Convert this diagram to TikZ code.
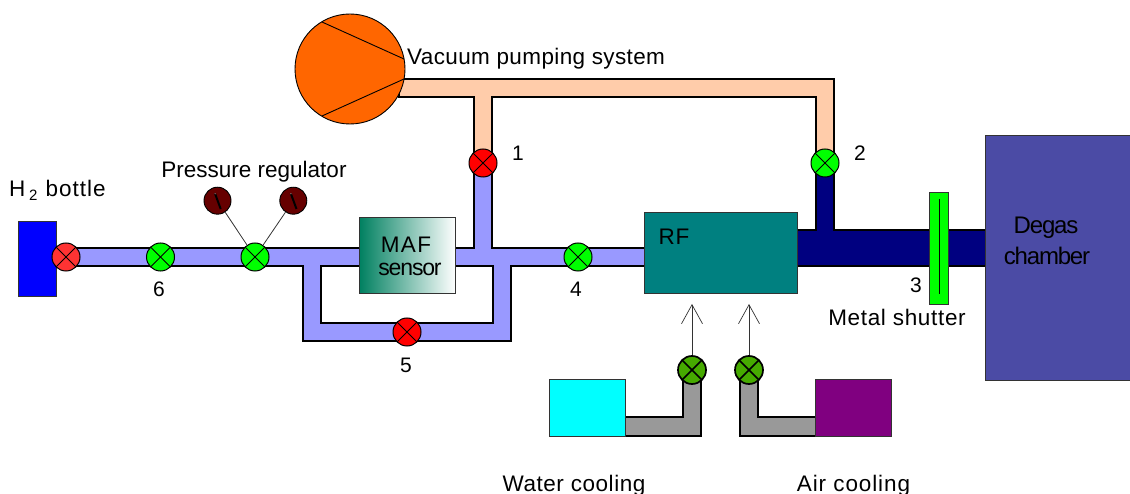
\documentclass[tikz,border=0pt]{standalone}
\usepackage{xcolor}
\usepackage{fontspec}
\setmainfont{Liberation Sans}
\usetikzlibrary{arrows.meta}
\definecolor{pipeblue}{RGB}{153,153,255}
\definecolor{pipepeach}{RGB}{255,204,170}
\definecolor{pipenavy}{RGB}{0,0,128}
\definecolor{pumporange}{RGB}{255,102,0}
\definecolor{valvered}{RGB}{255,0,0}
\definecolor{bottlered}{RGB}{255,51,51}
\definecolor{valvegreen}{RGB}{0,255,0}
\definecolor{cooldark}{RGB}{70,170,0}
\definecolor{gaugered}{RGB}{102,0,0}
\definecolor{rfteal}{RGB}{0,128,128}
\definecolor{mafgreen}{RGB}{0,128,96}
\definecolor{chamberblue}{RGB}{75,75,165}
\definecolor{coolpurple}{RGB}{128,0,128}
\definecolor{coolcyan}{RGB}{0,255,255}
\tikzset{
    pipe/.style={draw=black, line width=1.3pt, line join=miter, fill=#1},
    box/.style={draw=black!80, line width=0.9pt, inner sep=0pt, anchor=north west},
    valve/.style={circle, draw=black, line width=1pt, inner sep=0pt, minimum size=28pt, fill=#1,
        path picture={
            \draw (path picture bounding box.north west) -- (path picture bounding box.south east);
            \draw (path picture bounding box.north east) -- (path picture bounding box.south west);
        }},
    coolvalve/.style={valve=cooldark, line width=1.7pt},
    gauge/.style={circle, draw=black, line width=0.9pt, inner sep=0pt, minimum size=27pt, fill=gaugered},
    lab/.style={inner sep=0pt, font=\fontsize{21}{23}\selectfont},
    tracked/.style={inner sep=0pt, font=\fontsize{22.5}{24}\selectfont\addfontfeatures{LetterSpace=#1}},
    tracked/.default=2.5,
    squeezed/.style={inner sep=0pt, font=\fontsize{24}{26}\selectfont\addfontfeatures{LetterSpace=#1}},
    stem/.style={draw=black!80, line width=0.8pt},
}
\begin{document}
\begin{tikzpicture}[x=1pt, y=-1pt]
    \useasboundingbox (0,0) rectangle (1130,494);
    % pipes
    \draw[pipe=pipepeach] (399,79) -- (834,79) -- (834,163) -- (816,163) -- (816,97) -- (492,97)
        -- (492,163) -- (474,163) -- (474,97) -- (399,97) -- cycle;
    \draw[pipe=pipeblue, even odd rule] (66,248) -- (474,248) -- (474,163) -- (492,163) -- (492,248)
        -- (650,248) -- (650,266) -- (511,266) -- (511,341) -- (303,341) -- (303,266) -- (66,266) -- cycle
        (321,266) -- (493,266) -- (493,323) -- (321,323) -- cycle;
    \draw[pipe=pipenavy] (790,230) -- (816,230) -- (816,163) -- (834,163) -- (834,230) -- (990,230)
        -- (990,266) -- (790,266) -- cycle;
    \draw[pipe=black!40] (620,417) -- (683,417) -- (683,370) -- (701,370) -- (701,436) -- (620,436) -- cycle;
    \draw[pipe=black!40] (820,417) -- (758,417) -- (758,370) -- (740,370) -- (740,436) -- (820,436) -- cycle;
    % vessels and boxes
    \node[box, fill=blue, minimum width=38pt, minimum height=75pt] (bottle) at (18,221) {};
    \node[box, left color=mafgreen, right color=white, minimum width=96pt, minimum height=76pt] (maf) at (359,217) {};
    \node[box, fill=rfteal, minimum width=153pt, minimum height=81pt] (rf) at (644,212) {};
    \node[box, fill=chamberblue, minimum width=146pt, minimum height=245pt] (chamber) at (985,135) {};
    \node[box, fill=valvegreen, minimum width=19pt, minimum height=112pt] (shutter) at (929,192) {};
    \draw[line width=0.7pt] ([yshift=-7pt]shutter.north) -- ([yshift=11pt]shutter.south);
    \node[box, fill=coolcyan, minimum width=76pt, minimum height=57pt] (water) at (549,379) {};
    \node[box, fill=coolpurple, minimum width=76pt, minimum height=57pt] (air) at (815,379) {};
    % pump
    \node[circle, draw=black, line width=0.9pt, fill=pumporange, inner sep=0pt, minimum size=110pt] (pump) at (350,69) {};
    \draw[line width=0.9pt] (322,22) -- (404,59);
    \draw[line width=0.9pt] (322,116) -- (404,79);
    % valves
    \foreach \name/\col/\x/\y in {v0/bottlered/66/257, v6/valvegreen/160.5/257, vreg/valvegreen/255/257,
        v1/valvered/483/163, v2/valvegreen/825/163, v4/valvegreen/578/257, v5/valvered/407/332}
        \node[valve=\col] (\name) at (\x,\y) {};
    \node[coolvalve] (vwater) at (692,370) {};
    \node[coolvalve] (vair) at (749,370) {};
    % gauges
    \foreach \name/\x in {gaugea/217.5, gaugeb/293.3} {
        \node[gauge] (\name) at (\x,200.7) {};
        \draw[line width=2pt] ([shift={(-2.6,-7.5)}]\name.center) -- ([shift={(3.2,8.3)}]\name.center);
        \fill[gaugered!60!white] ([shift={(-2.4,-7)}]\name.center) circle (0.8pt);
        \draw[stem] (\name) -- (vreg);
    }
    % cooling arrows
    \coordinate (tipwater) at (692,304);
    \coordinate (tipair) at (749,304);
    \draw[stem, -{Straight Barb[length=19pt, width=21pt, line width=0.7pt]}] (vwater) -- (tipwater);
    \draw[stem, -{Straight Barb[length=19pt, width=21pt, line width=0.7pt]}] (vair) -- (tipair);
    % labels
    \foreach \k/\x/\y in {1/518/153, 2/860/153, 3/916/285, 4/576/289, 5/406/365, 6/159/289}
        \node[lab] (num\k) at (\x,\y) {\k};
    \node[tracked=4.5, anchor=base west] (bottlelab) at (9,197) {H\,\raisebox{-4pt}{\fontsize{15}{15}\selectfont 2}\hspace{8pt}bottle};
    \node[tracked=0] (reglab) at (254,172) {Pressure regulator};
    \node[tracked=1.7, anchor=base west] (pumplab) at (407,65) {Vacuum pumping system};
    \node[tracked=6] (maflab) at (406,245) {MAF};
    \node[squeezed=-5, font=\fontsize{23}{25}\selectfont\addfontfeatures{LetterSpace=-5}] (sensorlab) at (410,269) {sensor};
    \node[tracked=4] (rflab) at (674,237) {RF};
    \node[squeezed=-5] (degaslab) at (1046,228) {Degas};
    \node[squeezed=-5] (chamberlab) at (1047,256) {chamber};
    \node[tracked=3] (shutterlab) at (897,317) {Metal shutter};
    \node[tracked, anchor=base] (waterlab) at (574,491) {Water cooling};
    \node[tracked=4, anchor=base] (airlab) at (853.5,491) {Air cooling};
\end{tikzpicture}
\end{document}
